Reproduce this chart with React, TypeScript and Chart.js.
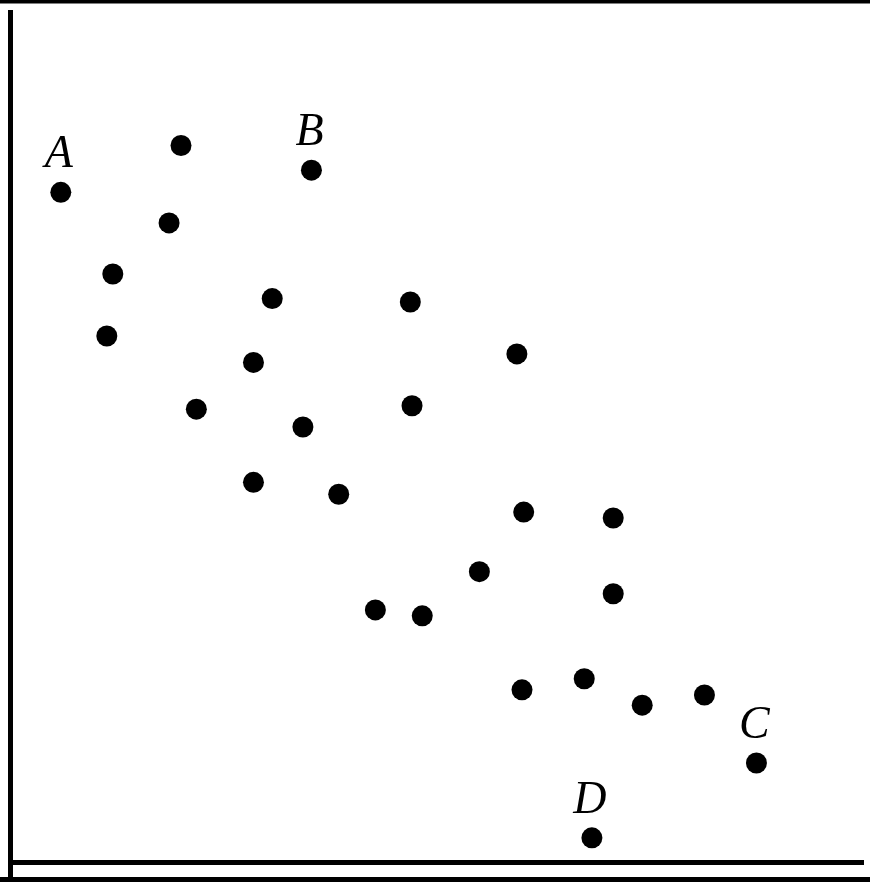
import React, { useEffect, useRef } from "react";
import { Chart, registerables } from "chart.js";

Chart.register(...registerables);

const xValues = [5.9, 20.0, 35.3, 18.6, 12.0, 11.3, 30.7, 46.9, 28.5, 59.4, 21.8, 47.1, 34.3, 28.5, 38.5, 60.2, 70.7, 55.0, 42.8, 48.3, 70.7, 60.0, 67.3, 74.1, 81.4, 87.5, 68.2];
const yValues = [78.8, 84.3, 81.4, 75.2, 69.2, 61.9, 66.3, 65.9, 58.8, 59.8, 53.3, 53.7, 51.2, 44.7, 43.3, 41.2, 40.5, 34.2, 29.7, 29.0, 31.6, 20.3, 21.6, 18.5, 19.7, 11.7, 2.9];
const pointNames = ["A", "", "B", "", "", "", "", "", "", "", "", "", "", "", "", "", "", "", "", "", "", "", "", "", "", "C", "D"];

const W = 870;
const H = 882;

const labelPlugin = {
  id: "pointNames",
  afterDatasetsDraw(chart: any) {
    const ctx = chart.ctx;
    const meta = chart.getDatasetMeta(0);
    ctx.save();
    ctx.fillStyle = "#000";
    ctx.font = "italic 46px 'Liberation Serif', 'DejaVu Serif', serif";
    ctx.textAlign = "center";
    ctx.textBaseline = "alphabetic";
    meta.data.forEach((pt: any, i: number) => {
      const name = pointNames[i];
      if (name) ctx.fillText(name, pt.x - 2, pt.y - 25);
    });
    ctx.restore();
  },
};

const framePlugin = {
  id: "frame",
  afterDraw(chart: any) {
    const ctx = chart.ctx;
    const area = chart.chartArea;
    ctx.save();
    ctx.fillStyle = "#000";
    // top bar
    ctx.fillRect(0, 0, W, 3.5);
    // bottom frame
    ctx.fillRect(0, H - 5, W, 5);
    // y axis extension below x axis
    ctx.fillRect(area.left - 2.5, area.bottom, 5, H - area.bottom);
    ctx.restore();
  },
};

export default function App() {
  const ref = useRef<HTMLCanvasElement | null>(null);
  useEffect(() => {
    if (!ref.current) return;
    const chart = new Chart(ref.current, {
      type: "scatter",
      data: {
        datasets: [
          {
            data: xValues.map((x, i) => ({ x, y: yValues[i] })),
            backgroundColor: "#000",
            borderWidth: 0,
            pointRadius: 10.5,
            pointHoverRadius: 10.5,
          },
        ],
      },
      options: {
        responsive: false,
        animation: false,
        devicePixelRatio: 1,
        layout: { autoPadding: false, padding: { left: 10.5, top: 12, right: 7, bottom: 19.5 } },
        plugins: { legend: { display: false }, tooltip: { enabled: false } },
        scales: {
          x: {
            type: "linear",
            min: 0,
            max: 100,
            ticks: { display: false },
            grid: { display: false, drawTicks: false },
            border: { display: true, color: "#000", width: 5 },
          },
          y: {
            type: "linear",
            min: 0,
            max: 100,
            ticks: { display: false },
            grid: { display: false, drawTicks: false },
            border: { display: true, color: "#000", width: 5 },
          },
        },
      },
      plugins: [labelPlugin, framePlugin],
    });
    return () => chart.destroy();
  }, []);
  return (
    <div style={{ position: "absolute", left: 0, top: 0, width: W, height: H, background: "#fff" }}>
      <canvas ref={ref} width={W} height={H} style={{ display: "block" }} />
    </div>
  );
}
